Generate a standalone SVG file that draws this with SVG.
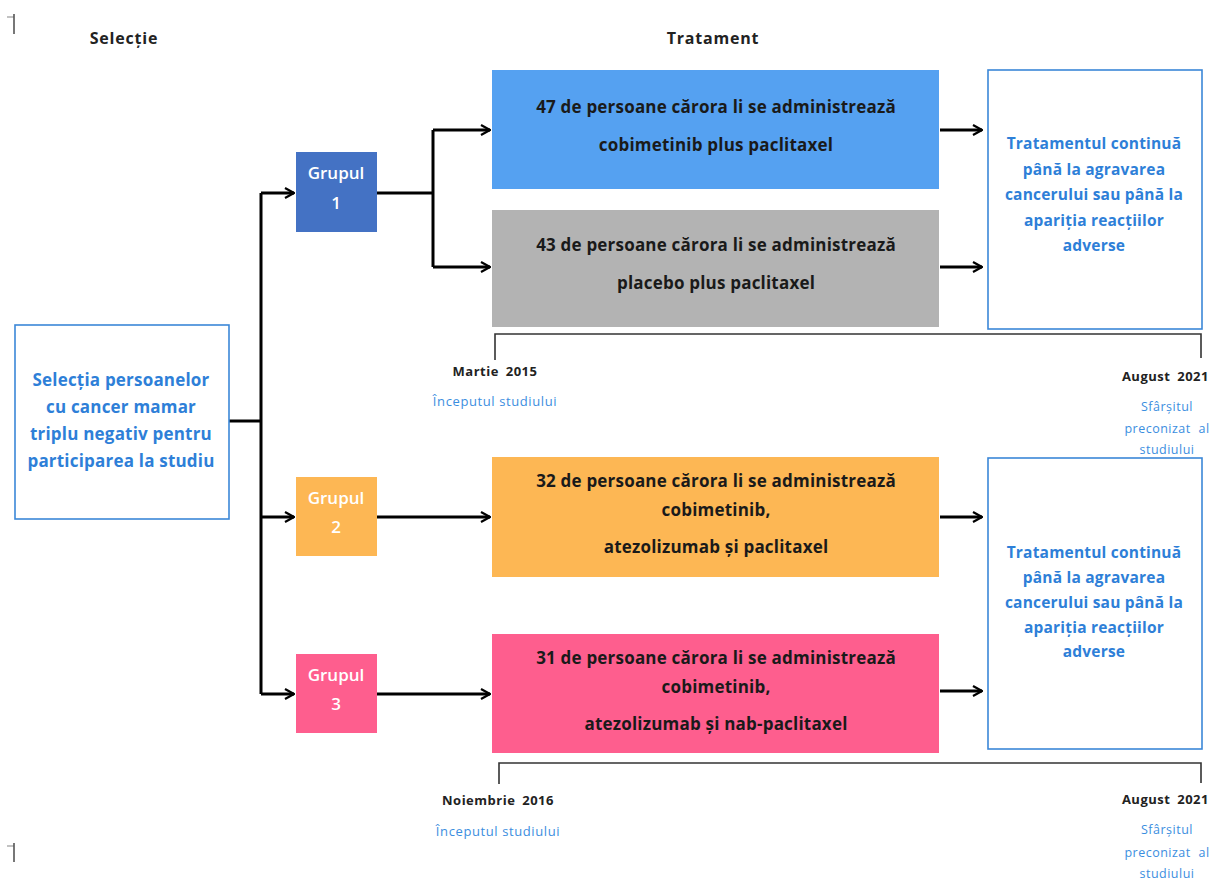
<svg xmlns="http://www.w3.org/2000/svg" width="1215" height="888" viewBox="0 0 1215 888">
<defs>
<marker id="arr" viewBox="0 0 12 12" refX="11" refY="6" markerWidth="12" markerHeight="12" markerUnits="userSpaceOnUse" orient="auto">
<path d="M2,1 L11,6 L2,11" fill="none" stroke="#000" stroke-width="2.2" stroke-linejoin="miter"/>
</marker>
</defs>
<style>
text{font-family:"Open Sans",Lato,"Liberation Sans",sans-serif;font-weight:bold;text-anchor:middle}
.hdr{font-size:16px;fill:#222;letter-spacing:0.8px}
.bt{font-size:17px;fill:#1a1a1a;letter-spacing:0.2px}
.bl{font-size:17px;fill:#2e7fd8;letter-spacing:0.2px}
.br{font-size:15.5px;fill:#2e7fd8;letter-spacing:0.2px}
.gt{font-size:17px;fill:#fff;font-weight:600}
.dt{font-size:13px;fill:#222;letter-spacing:0.5px;word-spacing:3px}
.st{font-size:13px;fill:#3b8ee0;font-weight:normal;letter-spacing:0.6px}
.sr{font-size:12.5px;fill:#3b8ee0;font-weight:normal;letter-spacing:0.5px;word-spacing:4px}
.conn{fill:none;stroke:#000;stroke-width:3}
.brk{fill:none;stroke:#333;stroke-width:1.6}
.ob{fill:#fff;stroke:#3b87d8;stroke-width:1.6}
</style>
<rect width="1215" height="888" fill="#fff"/>
<g id="corner-marks" stroke-width="1.2" fill="none">
<path d="M7,17 H14" stroke="#999"/><path d="M14,14 V34" stroke="#555" stroke-width="1.6"/>
<path d="M7,846 H14" stroke="#999"/><path d="M14,843 V862" stroke="#555" stroke-width="1.6"/>
</g>
<g id="headers">
<text class="hdr" x="124" y="44">Selecție</text>
<text class="hdr" x="713" y="44">Tratament</text>
</g>
<g id="connectors">
<path class="conn" d="M229,421 H261"/>
<path class="conn" d="M261,193 V694"/>
<path class="conn" d="M261,193 H294" marker-end="url(#arr)"/>
<path class="conn" d="M261,517 H294" marker-end="url(#arr)"/>
<path class="conn" d="M261,694 H294" marker-end="url(#arr)"/>
<path class="conn" d="M377,193 H433"/>
<path class="conn" d="M433,130 V267"/>
<path class="conn" d="M433,130 H490" marker-end="url(#arr)"/>
<path class="conn" d="M433,267 H490" marker-end="url(#arr)"/>
<path class="conn" d="M377,517 H490" marker-end="url(#arr)"/>
<path class="conn" d="M377,694 H490" marker-end="url(#arr)"/>
<path class="conn" d="M940,130 H982" marker-end="url(#arr)"/>
<path class="conn" d="M940,267 H982" marker-end="url(#arr)"/>
<path class="conn" d="M940,517 H982" marker-end="url(#arr)"/>
<path class="conn" d="M940,691 H982" marker-end="url(#arr)"/>
</g>
<g id="selection">
<rect class="ob" x="15" y="325" width="214" height="194"/>
<text class="bl" x="121" y="386">Selecția persoanelor</text>
<text class="bl" x="121" y="413">cu cancer mamar</text>
<text class="bl" x="121" y="440">triplu negativ pentru</text>
<text class="bl" x="121" y="467">participarea la studiu</text>
</g>
<g id="grupul1">
<rect x="296" y="152" width="81" height="80" fill="#4472c4"/>
<text class="gt" x="336" y="179">Grupul</text>
<text class="gt" x="336" y="209">1</text>
</g>
<g id="grupul2">
<rect x="296" y="477" width="81" height="79" fill="#fdb754"/>
<text class="gt" x="336" y="504">Grupul</text>
<text class="gt" x="336" y="533">2</text>
</g>
<g id="grupul3">
<rect x="296" y="654" width="81" height="79" fill="#fe5e8e"/>
<text class="gt" x="336" y="681">Grupul</text>
<text class="gt" x="336" y="710">3</text>
</g>
<g id="arm1">
<rect x="492" y="70" width="447" height="119" fill="#55a1f1"/>
<text class="bt" x="716" y="113">47 de persoane cărora li se administrează</text>
<text class="bt" x="716" y="151">cobimetinib plus paclitaxel</text>
</g>
<g id="arm2">
<rect x="492" y="210" width="447" height="117" fill="#b3b3b3"/>
<text class="bt" x="716" y="251">43 de persoane cărora li se administrează</text>
<text class="bt" x="716" y="289">placebo plus paclitaxel</text>
</g>
<g id="arm3">
<rect x="492" y="457" width="447" height="120" fill="#fdb754"/>
<text class="bt" x="716" y="487">32 de persoane cărora li se administrează</text>
<text class="bt" x="716" y="516">cobimetinib,</text>
<text class="bt" x="716" y="553">atezolizumab și paclitaxel</text>
</g>
<g id="arm4">
<rect x="492" y="634" width="447" height="119" fill="#fe5e8e"/>
<text class="bt" x="716" y="664">31 de persoane cărora li se administrează</text>
<text class="bt" x="716" y="693">cobimetinib,</text>
<text class="bt" x="716" y="730">atezolizumab și nab-paclitaxel</text>
</g>
<g id="outcome1">
<rect class="ob" x="988" y="70" width="214" height="259"/>
<text class="br" x="1094" y="149">Tratamentul continuă</text>
<text class="br" x="1094" y="175">până la agravarea</text>
<text class="br" x="1094" y="200">cancerului sau până la</text>
<text class="br" x="1094" y="226">apariția reacțiilor</text>
<text class="br" x="1094" y="251">adverse</text>
</g>
<g id="outcome2">
<rect class="ob" x="988" y="458" width="214" height="291"/>
<text class="br" x="1094" y="558">Tratamentul continuă</text>
<text class="br" x="1094" y="583">până la agravarea</text>
<text class="br" x="1094" y="608">cancerului sau până la</text>
<text class="br" x="1094" y="633">apariția reacțiilor</text>
<text class="br" x="1094" y="657">adverse</text>
</g>
<g id="timeline1">
<path class="brk" d="M495,360 V334 H1201 V358"/>
<text class="dt" x="495" y="376">Martie 2015</text>
<text class="st" x="495" y="406">Începutul studiului</text>
<text class="dt" x="1209" y="381" style="text-anchor:end">August 2021</text>
<text class="sr" x="1167" y="411">Sfârșitul</text>
<text class="sr" x="1167" y="433">preconizat al</text>
<text class="sr" x="1167" y="454">studiului</text>
</g>
<g id="timeline2">
<path class="brk" d="M499,784 V763 H1201 V783"/>
<text class="dt" x="498" y="805">Noiembrie 2016</text>
<text class="st" x="498" y="836">Începutul studiului</text>
<text class="dt" x="1209" y="804" style="text-anchor:end">August 2021</text>
<text class="sr" x="1167" y="834">Sfârșitul</text>
<text class="sr" x="1167" y="857">preconizat al</text>
<text class="sr" x="1167" y="878">studiului</text>
</g>
</svg>
